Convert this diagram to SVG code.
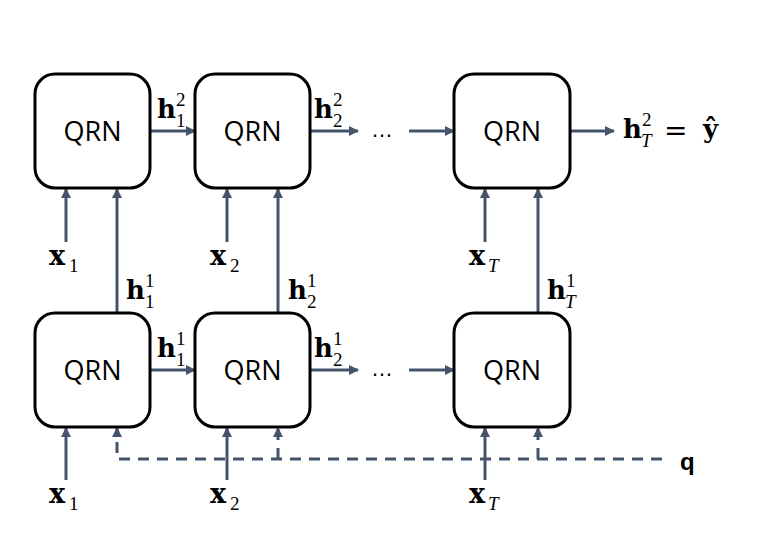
<svg xmlns="http://www.w3.org/2000/svg" width="761" height="542" viewBox="0 0 761 542">
<defs>
<marker id="ah" viewBox="0 0 10 10" refX="9" refY="5" markerWidth="10" markerHeight="10" markerUnits="userSpaceOnUse" orient="auto">
<path d="M0,0 L10,5 L0,10 z" fill="#44546a"/>
</marker>
</defs>
<style>
.box{fill:#fff;stroke:#000;stroke-width:3}
.lbl{font-family:"Open Sans","Liberation Sans",sans-serif;font-size:27px;fill:#000;text-anchor:middle}
.c{fill:none;stroke:#44546a;stroke-width:3}
.d{fill:none;stroke:#44546a;stroke-width:3;stroke-dasharray:11 8}
.m{font-family:"DejaVu Serif",serif;font-weight:bold;font-size:26px;fill:#000}
.mx{font-size:27px}
.s{font-family:"Liberation Serif",serif;font-weight:normal;font-style:normal;font-size:19px}
.i{font-family:"Liberation Serif",serif;font-weight:normal;font-style:italic;font-size:19px}
.eq{font-family:"DejaVu Sans",sans-serif;font-size:28px;fill:#000}
.q{font-family:"Liberation Sans",sans-serif;font-weight:bold;font-size:24px;fill:#000}
.dots{font-family:"Liberation Sans",sans-serif;font-size:22px;fill:#000}
</style>
<rect width="761" height="542" fill="#fff"/>
<g id="connectors">
<line class="c" x1="151" y1="131" x2="195" y2="131" marker-end="url(#ah)"/>
<line class="c" x1="311" y1="131" x2="358" y2="131" marker-end="url(#ah)"/>
<line class="c" x1="409" y1="131" x2="454" y2="131" marker-end="url(#ah)"/>
<line class="c" x1="571" y1="131" x2="614" y2="131" marker-end="url(#ah)"/>
<line class="c" x1="151" y1="370" x2="195" y2="370" marker-end="url(#ah)"/>
<line class="c" x1="311" y1="370" x2="358" y2="370" marker-end="url(#ah)"/>
<line class="c" x1="409" y1="370" x2="454" y2="370" marker-end="url(#ah)"/>
<line class="c" x1="66" y1="242" x2="66" y2="189" marker-end="url(#ah)"/>
<line class="c" x1="227" y1="242" x2="227" y2="189" marker-end="url(#ah)"/>
<line class="c" x1="485" y1="242" x2="485" y2="189" marker-end="url(#ah)"/>
<line class="c" x1="117" y1="312" x2="117" y2="189" marker-end="url(#ah)"/>
<line class="c" x1="278" y1="312" x2="278" y2="189" marker-end="url(#ah)"/>
<line class="c" x1="538" y1="312" x2="538" y2="189" marker-end="url(#ah)"/>
<line class="c" x1="66" y1="480" x2="66" y2="428" marker-end="url(#ah)"/>
<line class="c" x1="227" y1="480" x2="227" y2="428" marker-end="url(#ah)"/>
<line class="c" x1="485" y1="480" x2="485" y2="428" marker-end="url(#ah)"/>
<path class="d" d="M662,459 L117,459 L117,428" marker-end="url(#ah)"/>
<path class="d" d="M278,459 L278,428" marker-end="url(#ah)"/>
<path class="d" d="M538,459 L538,428" marker-end="url(#ah)"/>
</g>
<g id="n1"><rect class="box" x="35" y="74" width="115" height="114" rx="20"/><text class="lbl" x="92.5" y="141">QRN</text></g>
<g id="n2"><rect class="box" x="195" y="74" width="115" height="114" rx="20"/><text class="lbl" x="252.5" y="141">QRN</text></g>
<g id="n3"><rect class="box" x="454" y="74" width="116" height="114" rx="20"/><text class="lbl" x="512" y="141">QRN</text></g>
<g id="n4"><rect class="box" x="35" y="313" width="115" height="114" rx="20"/><text class="lbl" x="92.5" y="380">QRN</text></g>
<g id="n5"><rect class="box" x="195" y="313" width="115" height="114" rx="20"/><text class="lbl" x="252.5" y="380">QRN</text></g>
<g id="n6"><rect class="box" x="454" y="313" width="116" height="114" rx="20"/><text class="lbl" x="512" y="380">QRN</text></g>
<g id="labels">
<text class="dots" x="371" y="137">…</text>
<text class="dots" x="371" y="376">…</text>
<text class="m" x="157" y="118">h<tspan class="s" x="176" y="106">2</tspan><tspan class="s" x="176" y="127">1</tspan></text>
<text class="m" x="314" y="118">h<tspan class="s" x="333" y="106">2</tspan><tspan class="s" x="333" y="127">2</tspan></text>
<text class="m" x="623" y="138">h<tspan class="s" x="642" y="126">2</tspan><tspan class="i" x="641" y="147">T</tspan></text>
<text class="eq" x="664" y="140">=</text>
<text class="m" x="703" y="138">ŷ</text>
<text class="m mx" x="49" y="265">x<tspan class="s" x="69" y="272">1</tspan></text>
<text class="m mx" x="210" y="265">x<tspan class="s" x="230" y="272">2</tspan></text>
<text class="m mx" x="469" y="265">x<tspan class="i" x="488" y="272">T</tspan></text>
<text class="m" x="126" y="299">h<tspan class="s" x="145" y="287">1</tspan><tspan class="s" x="145" y="308">1</tspan></text>
<text class="m" x="288" y="299">h<tspan class="s" x="307" y="287">1</tspan><tspan class="s" x="307" y="308">2</tspan></text>
<text class="m" x="547" y="299">h<tspan class="s" x="566" y="287">1</tspan><tspan class="i" x="565" y="308">T</tspan></text>
<text class="m" x="157" y="357">h<tspan class="s" x="176" y="345">1</tspan><tspan class="s" x="176" y="366">1</tspan></text>
<text class="m" x="314" y="357">h<tspan class="s" x="333" y="345">1</tspan><tspan class="s" x="333" y="366">2</tspan></text>
<text class="m mx" x="49" y="503">x<tspan class="s" x="69" y="510">1</tspan></text>
<text class="m mx" x="210" y="503">x<tspan class="s" x="230" y="510">2</tspan></text>
<text class="m mx" x="469" y="503">x<tspan class="i" x="488" y="510">T</tspan></text>
<text class="q" x="680" y="470">q</text>
</g>
</svg>
